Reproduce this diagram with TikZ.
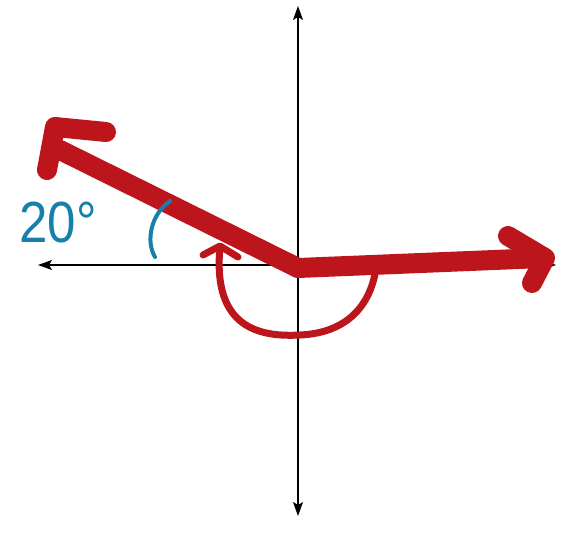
\documentclass[tikz,border=0pt]{standalone}
\usepackage{fontspec}
\setmainfont{Liberation Sans}
\usetikzlibrary{arrows.meta}
\definecolor{penred}{RGB}{188,22,28}
\definecolor{penblue}{RGB}{22,128,170}
\tikzset{
  axis/.style={line width=1.2pt,{Stealth[length=14pt,width=10pt,inset=3pt]}-{Stealth[length=14pt,width=10pt,inset=3pt]}},
  ray/.style={penred,line width=20pt,line cap=round,line join=round},
  turn/.style={penred,line width=7pt,line cap=round,line join=round},
  mark20/.style={penblue,line width=4pt,line cap=round}
}
\begin{document}
\begin{tikzpicture}[x=1pt,y=-1pt,>=Latex]
\useasboundingbox (0,0) rectangle (561,532);

% axes
\draw[axis] (38,265) -- (556,265);
\draw[axis] (298,6) -- (298,516);

% rotation arc
\draw[turn] (220,247) .. controls (212,330) and (262,337) .. (300,335)
  .. controls (345,333) and (368,308) .. (375,274);
\draw[turn] (203,255) -- (220,246) -- (238,257);

% terminal ray (160 deg) and initial ray
\draw[ray] (298,268) -- (60,150);
\draw[ray] (106,132) -- (55,127) -- (47,170);
\draw[ray] (298,268) -- (543,258);
\draw[ray] (508,236) -- (545,258) -- (532,283);

% reference angle
\draw[mark20] (170,201) .. controls (150,215) and (146,242) .. (155,257);
\node[penblue,font=\fontsize{58}{58}\selectfont,xscale=0.88,anchor=center] (angle) at (58,223) {20°};
\end{tikzpicture}
\end{document}
